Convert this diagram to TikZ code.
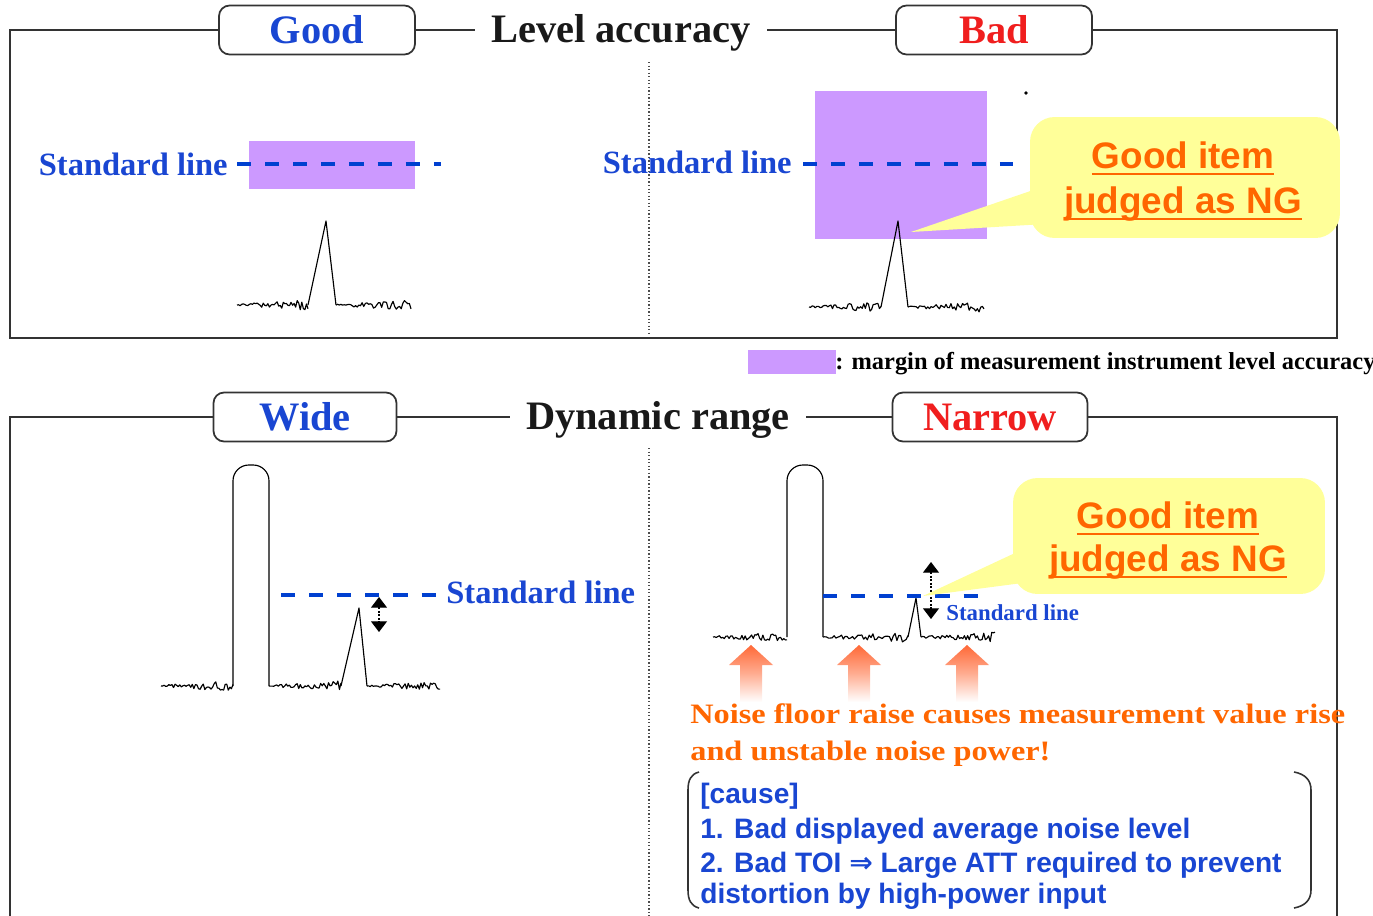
\documentclass[tikz,border=0pt]{standalone}
\usepackage{fontspec}
\setmainfont{Liberation Serif}
\setsansfont{Liberation Sans}
\newfontfamily\arrfont{DejaVu Sans}
\newfontfamily\wideserif[FakeStretch=1.15]{Liberation Serif}
\usetikzlibrary{arrows.meta}
\definecolor{tblue}{RGB}{25,70,210}
\definecolor{dblue}{RGB}{0,64,208}
\definecolor{tred}{RGB}{240,30,30}
\definecolor{purp}{RGB}{204,153,255}
\definecolor{cyell}{RGB}{255,255,153}
\definecolor{torange}{RGB}{255,102,0}
\definecolor{arrorange}{RGB}{255,105,55}
\newcommand\ulx[1]{\vtop{\hbox{\raisebox{0pt}[\height][0pt]{#1}}\kern2.6pt\hrule height 1.1pt}}
\newcommand\noisy[3]{%
  \draw[trace] (#1,#3) \foreach \k in {1,...,46} { -- ({#1+(#2-#1)*\k/46},{#3+rand*(1+4.2*\k/46)}) };
}
\begin{document}
\begin{tikzpicture}[x=0.02cm,y=-0.02cm,
  frame/.style={draw=black!80,line width=1pt},
  tagbox/.style={draw=black!80,line width=1pt,rounded corners=6pt,fill=white,minimum height=0.98cm,inner sep=0pt,font=\fontsize{23}{26}\selectfont\bfseries},
  title/.style={font=\fontsize{23}{26}\selectfont\bfseries,text=black!90,inner xsep=9pt},
  stdtxt/.style={font=\fontsize{18.5}{20}\selectfont\bfseries,text=tblue,inner sep=0pt},
  stdline/.style={draw=dblue,line width=2.4pt,dash pattern=on 8pt off 8pt},
  trace/.style={draw=black,line width=0.65pt,line join=round},
  divider/.style={draw=black!70,line width=0.7pt,dash pattern=on 0.8pt off 1.2pt},
  dblarr/.style={draw=black,line width=0.6pt,dash pattern=on 1pt off 1pt,{Triangle[width=9pt,length=6pt]}-{Triangle[width=9pt,length=6pt]}},
  bubble/.style={fill=cyell,rounded corners=14pt,inner sep=0pt},
  ngtxt/.style={font=\sffamily\fontsize{21}{24}\selectfont\bfseries,text=torange,inner sep=0pt,anchor=base},
  cause/.style={font=\sffamily\fontsize{16}{18}\selectfont\bfseries,text=tblue,inner sep=0pt,anchor=base west},
  bracket/.style={draw=black!80,line width=0.9pt},
]
\useasboundingbox (0,0) rectangle (1373,916);
\pgfmathsetseed{4321}

% ---------------- top panel ----------------
\node[tagbox,minimum width=3.92cm,text=tblue] (good) at (317,30) {Good};
\node[tagbox,minimum width=3.92cm,text=tred] (bad) at (994,30) {Bad};
\node[title,anchor=base] (lvl) at (621,42) {Level accuracy};
\draw[frame] (good.west) -- (10,30) -- (10,338) -- (1337,338) -- (1337,30) -- (bad.east);
\draw[frame] (good.east) -- (good.east -| lvl.west);
\draw[frame] (bad.west) -- (bad.west -| lvl.east);
\draw[divider] (649,62) -- (649,335);

% left: good
\fill[purp] (249,141) rectangle (415,189);
\node[stdtxt,anchor=base east] (s1) at (228,175) {Standard line};
\coordinate (d1a) at (237,164);
\coordinate (d1b) at (441,164);
\draw[stdline] (d1a) -- (d1b);
\noisy{237}{308}{305}
\draw[trace] (308,305) -- (326,221) -- (336,305);
\noisy{336}{411}{305}

% right: bad
\fill[purp] (815,91) rectangle (987,239);
\node[stdtxt,anchor=base east] (s2) at (792,173) {Standard line};
\coordinate (d2a) at (803,164);
\coordinate (d2b) at (1013,164);
\draw[stdline] (d2a) -- (d2b);
\noisy{809}{881}{307}
\draw[trace] (881,307) -- (898,221) -- (908,307);
\noisy{908}{984}{307}
\fill (1026,93) circle[radius=1.1pt];

% callout 1
\coordinate (tip1) at (911,232);
\node[bubble,minimum width=6.2cm,minimum height=2.42cm] (call1) at (1185,177.5) {};
\fill[cyell] (tip1) -- (1045,186) -- (1045,224) -- cycle;
\node[ngtxt] (g1) at (1183,168) {\ulx{Good item}};
\node[ngtxt] (g2) at (1183,213) {\ulx{judged as NG}};

% legend
\fill[purp] (748,350) rectangle (836,374);
\node[font=\fontsize{13.9}{15}\selectfont\bfseries,inner sep=0pt,anchor=base west] (legtxt) at (835,369) {: margin of measurement instrument level accuracy};

% ---------------- bottom panel ----------------
\node[tagbox,minimum width=3.66cm,text=tblue] (wide) at (305,417) {Wide};
\node[tagbox,minimum width=3.9cm,text=tred] (narrow) at (990,417) {Narrow};
\node[title,anchor=base] (dyn) at (658,429) {Dynamic range};
\draw[frame] (wide.west) -- (10,417) -- (10,916);
\draw[frame] (narrow.east) -- (1337,417) -- (1337,916);
\draw[frame] (wide.east) -- (wide.east -| dyn.west);
\draw[frame] (narrow.west) -- (narrow.west -| dyn.east);
\draw[divider] (649,448) -- (649,916);

% left: wide
\noisy{161}{233}{686}
\draw[trace,rounded corners=9pt] (233,686) -- (233,465) -- (269,465) -- (269,686);
\noisy{269}{341}{686}
\draw[trace] (341,686) -- (359,608) -- (367,686);
\noisy{367}{440}{686}
\coordinate (d3a) at (281,595);
\coordinate (d3b) at (437,595);
\draw[stdline] (d3a) -- (d3b);
\node[stdtxt,anchor=base west] (s3) at (446,603) {Standard line};
\coordinate (a3t) at (379,597);
\coordinate (a3b) at (379,632);
\draw[dblarr] (a3t) -- (a3b);

% right: narrow
\noisy{713}{787}{637}
\draw[trace,rounded corners=9pt] (787,637) -- (787,465) -- (823,465) -- (823,637);
\noisy{823}{908}{637}
\draw[trace] (908,637) -- (916,598) -- (921,637);
\noisy{921}{995}{637}
\coordinate (d4a) at (823,596);
\coordinate (d4b) at (980,596);
\draw[stdline] (d4a) -- (d4b);
\coordinate (a4t) at (931,562);
\coordinate (a4b) at (931,619);
\draw[dblarr] (a4t) -- (a4b);
\node[stdtxt,font=\fontsize{13}{15}\selectfont\bfseries,anchor=base west] (s4) at (946,620) {Standard line};

% callout 2
\coordinate (tip2) at (923,596);
\node[bubble,minimum width=6.24cm,minimum height=2.32cm] (call2) at (1169,536) {};
\fill[cyell] (tip2) -- (1030,546) -- (1030,582) -- cycle;
\node[ngtxt] (g3) at (1168,528) {\ulx{Good item}};
\node[ngtxt] (g4) at (1168,571) {\ulx{judged as NG}};

% orange up arrows
\foreach \c in {751,859,967}{
  \shade[top color=arrorange,bottom color=white,middle color=arrorange!55]
    (\c-11,702) -- (\c-11,665) -- (\c-22,665) -- (\c,645) -- (\c+22,665) -- (\c+11,665) -- (\c+11,702) -- cycle;
}

\node[font=\wideserif\fontsize{16}{18}\selectfont\bfseries,text=torange,inner sep=0pt,anchor=base west] (o1) at (690,723) {Noise floor raise causes measurement value rise};
\node[font=\wideserif\fontsize{16}{18}\selectfont\bfseries,text=torange,inner sep=0pt,anchor=base west] (o2) at (690,760) {and unstable noise power!};

% cause box
\draw[bracket] (699,772) .. controls (691,774) and (688,780) .. (688,790) -- (688,890) .. controls (688,900) and (691,906) .. (699,908);
\draw[bracket] (1294,772) .. controls (1305,774) and (1311,780) .. (1311,790) -- (1311,890) .. controls (1311,900) and (1305,906) .. (1294,908);
\node[cause] (c1) at (700,803) {[cause]};
\node[cause] (c2) at (700,838) {1. Bad displayed average noise level};
\node[cause] (c3) at (700,872) {2. Bad TOI {\arrfont ⇒} Large ATT required to prevent};
\node[cause] (c4) at (700,903) {distortion by high-power input};
\end{tikzpicture}
\end{document}
